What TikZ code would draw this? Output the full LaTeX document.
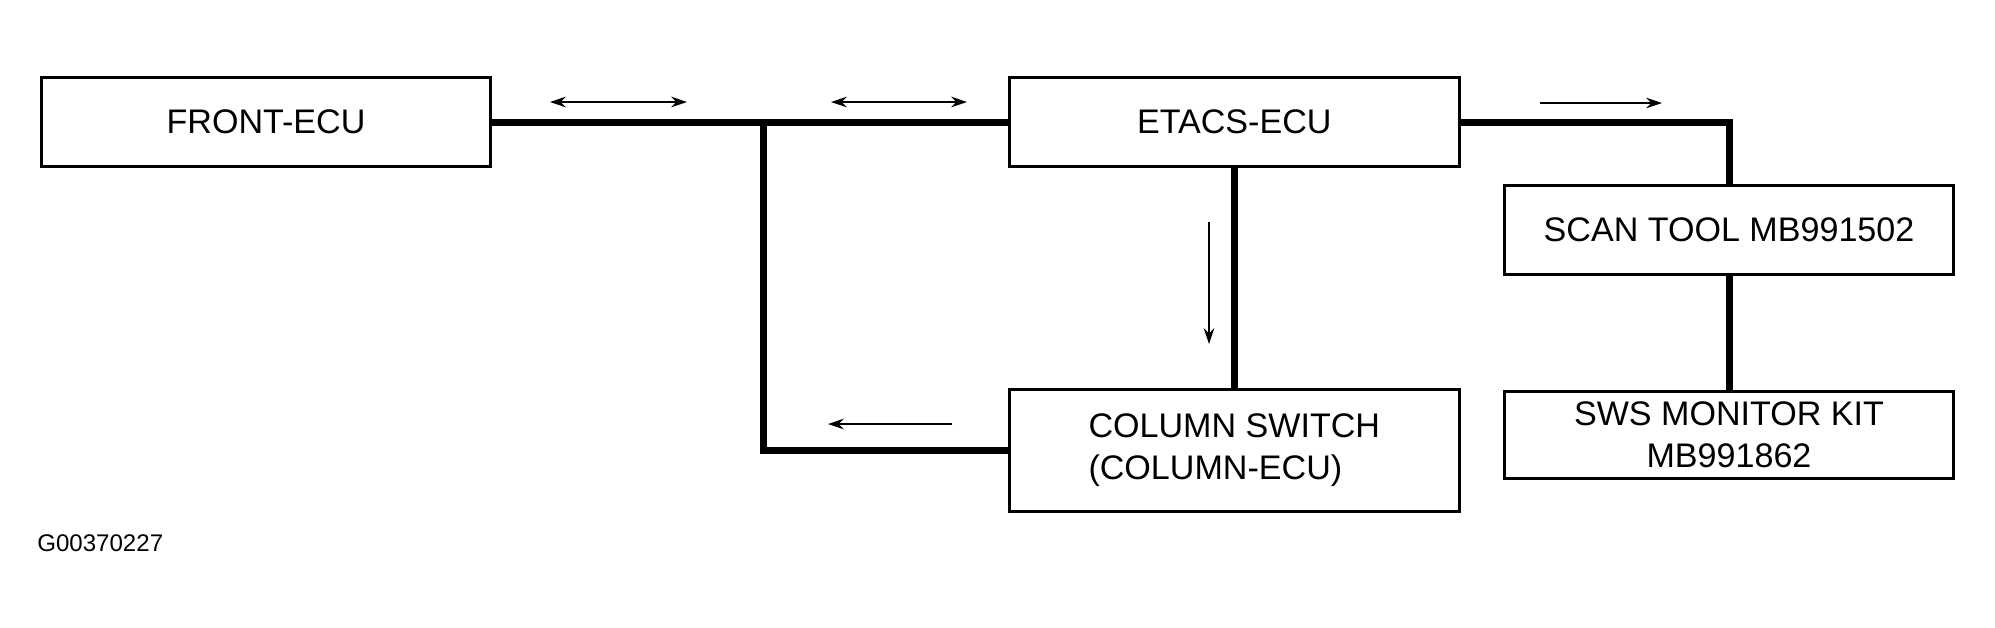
\documentclass[tikz,border=0pt]{standalone}
\usepackage{fontspec}
\setmainfont{Liberation Sans}
\usetikzlibrary{arrows.meta}

\begin{document}
\begin{tikzpicture}[x=0.02cm,y=-0.02cm,>={Stealth[length=9pt,width=6pt]},
    main node/.style={rectangle,draw,line width=0.06cm,inner sep=0pt,
      minimum width=9cm,minimum height=1.78cm,font=\fontsize{19.4}{24}\selectfont},
    bus/.style={line width=0.14cm},
    flow/.style={line width=0.04cm}]
    \useasboundingbox (0,0) rectangle (1995,627);
    \node[main node] (front) at (266,122) {FRONT-ECU};
    \node[main node] (etacs) [right of=front,node distance=19.37cm] {ETACS-ECU};
    \node[main node,minimum height=2.44cm,align=left] (column) [below of=etacs,node distance=6.57cm]
      {COLUMN SWITCH\\(COLUMN-ECU)};
    \node[main node] (scan) at (1729,230) {SCAN TOOL MB991502};
    \node[main node,minimum height=1.74cm,align=center] (sws) [below of=scan,node distance=4.1cm]
      {SWS MONITOR KIT\\MB991862};
    \node[anchor=west,inner sep=0pt,font=\fontsize{13.7}{16}\selectfont] (code) at (37,543) {G00370227};
    % bus lines
    \coordinate (jn) at (763,122);
    \draw[bus] (front) -- (etacs);
    \draw[bus] (jn) |- (column);
    \draw[bus] (etacs) -- (column);
    \draw[bus] (etacs) -| (scan);
    \draw[bus] (scan) -- (sws);
    % data flow
    \coordinate (f1) at (550,102);
    \coordinate (f2) at (687,102);
    \coordinate (f3) at (831,102);
    \coordinate (f4) at (967,102);
    \coordinate (f5) at (1540,103);
    \coordinate (f6) at (1662,103);
    \coordinate (f7) at (1209,222);
    \coordinate (f8) at (1209,344);
    \coordinate (f9) at (952,424);
    \coordinate (f10) at (828,424);
    \draw[flow,<->] (f1) -- (f2);
    \draw[flow,<->] (f3) -- (f4);
    \draw[flow,->] (f5) -- (f6);
    \draw[flow,->] (f7) -- (f8);
    \draw[flow,->] (f9) -- (f10);
\end{tikzpicture}
\end{document}
